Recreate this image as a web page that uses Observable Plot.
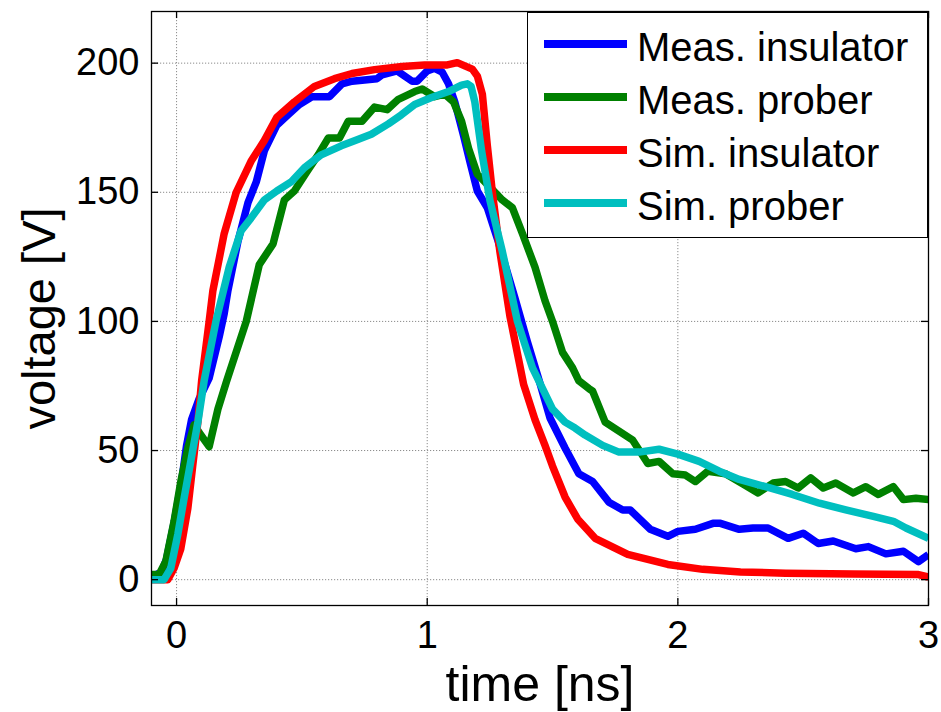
<!DOCTYPE html>
<html><head><meta charset="utf-8">
<script src="https://cdn.jsdelivr.net/npm/d3@7"></script>
<script src="https://cdn.jsdelivr.net/npm/@observablehq/plot@0.6"></script>
<style>
body{margin:0;background:#fff;}
#wrap{position:relative;width:941px;height:712px;font-family:"Liberation Sans",Arial,Helvetica,sans-serif;}
#legend{position:absolute;left:527px;top:12px;width:401px;height:226px;box-sizing:border-box;border:1.3px solid #000;background:#fff;}
</style></head><body><div id="wrap"></div>
<script>
// ---------- data ----------
const xTicks = [0, 1, 2, 3];
const yTicks = [0, 50, 100, 150, 200];
const seriesNames = ["Meas. insulator", "Meas. prober", "Sim. insulator", "Sim. prober"];
const seriesColors = ["#0000ff", "#008000", "#ff0000", "#00bfbf"];

const measInsT = [-0.1,-0.06,-0.04,-0.01,0.02,0.04,0.06,0.09,0.13,0.17,0.19,0.205,0.245,0.285,0.318,0.35,0.40,0.445,0.49,0.54,0.61,0.66,0.70,0.80,0.82,0.88,0.94,0.96,1.0,1.03,1.06,1.085,1.11,1.145,1.17,1.20,1.24,1.28,1.35,1.40,1.45,1.49,1.55,1.605,1.66,1.725,1.78,1.81,1.89,1.96,2.0,2.07,2.14,2.17,2.245,2.30,2.36,2.44,2.50,2.56,2.62,2.71,2.76,2.83,2.90,2.96,3.0];
const measInsV = [1,3,8,22,38,52,62,70,78,94,103,112,131,146,154,166,176,180,184,187,187,192,193,194,195.5,197,193,193,197,198,196.5,192,185,172,162,150.5,144,132,109,92,76,62.6,51,41,38,30,27,27,19.5,16.8,18.7,19.5,21.8,21.8,19.5,20,20,16,18,14,15,12,12.8,10,11,7,9.7];

const measProbT = [-0.1,-0.07,-0.043,-0.01,0.017,0.045,0.07,0.097,0.13,0.165,0.2,0.278,0.33,0.385,0.43,0.47,0.52,0.565,0.605,0.65,0.685,0.74,0.79,0.84,0.885,0.95,0.98,1.03,1.07,1.105,1.137,1.165,1.2,1.26,1.30,1.34,1.38,1.43,1.47,1.50,1.54,1.58,1.605,1.645,1.66,1.71,1.765,1.82,1.88,1.925,1.98,2.03,2.07,2.12,2.19,2.26,2.32,2.38,2.43,2.48,2.53,2.58,2.63,2.70,2.75,2.80,2.86,2.90,2.95,3.0];
const measProbV = [2,2,7,22.6,38,51,60,56,51.5,66,77,100,122,130,147,150.5,158,164.5,171,171,177.5,177.5,183,182,186,189,190,187,188,185,177.5,167,157,151,147,144,134,121,108,100,88,82,77,74,73,61,57.5,54,45,45.8,41,40.5,38,42,41,37,33.6,37.4,38,35.5,39.4,35.5,37.4,33.6,36,33,36,31,31.5,31];

const simInsT = [-0.1,-0.035,-0.01,0.017,0.045,0.065,0.085,0.1,0.13,0.145,0.19,0.238,0.297,0.35,0.40,0.47,0.55,0.63,0.70,0.79,0.90,0.99,1.08,1.12,1.18,1.20,1.22,1.24,1.26,1.29,1.33,1.385,1.43,1.47,1.50,1.55,1.60,1.67,1.80,1.96,2.10,2.25,2.43,2.70,2.96,3.0];
const simInsV = [0,0,4.4,12,27.6,44.6,61,77,100,112,134,150,162,170,179,185,191,194,196,197.5,198.7,199.3,199.3,200.2,197.7,195,188,168,150,127,102,75.5,62,52,44,32,23.5,16,9.8,5.9,4,3,2.5,2.2,2,1];

const simProbT = [-0.1,-0.05,-0.023,0.005,0.03,0.057,0.085,0.11,0.157,0.21,0.257,0.297,0.35,0.40,0.457,0.51,0.577,0.657,0.71,0.777,0.845,0.897,0.95,1.017,1.085,1.137,1.16,1.175,1.19,1.217,1.25,1.30,1.36,1.42,1.50,1.55,1.59,1.63,1.70,1.765,1.845,1.925,2.0,2.085,2.165,2.245,2.35,2.457,2.565,2.67,2.78,2.86,2.91,3.0];
const simProbV = [0,0,4.4,17.5,31.5,46,61,77,100,121,135,140,147,150.5,154,159.5,164.5,168,170,172.5,176.5,180,184,186.7,189,191.5,192,191,185,166,147,127,100,82,66,61,58.7,56,52,49.4,49.4,50.5,48.6,45.8,42,38.8,36,33,29.6,27,24.5,22.6,20,16];

const seriesT = [measInsT, measProbT, simInsT, simProbT];
const seriesV = [measInsV, measProbV, simInsV, simProbV];

// ---------- layout ----------
const W = 941, H = 712, mL = 151, mR = 13, mT = 11, mB = 107;
const plotW = W - mL - mR, plotH = H - mT - mB;
const tickLen = 7;
const font = '"Liberation Sans", Arial, Helvetica, sans-serif';

const rows = seriesT.map((ts, i) => ts.map((t, j) => ({t, v: seriesV[i][j], s: seriesNames[i]})));

const gridStyle = {stroke: "#8c8c8c", strokeOpacity: 1, strokeWidth: 1, strokeDasharray: "1.2,1.8"};

const chart = Plot.plot({
  width: W, height: H,
  marginLeft: mL, marginRight: mR, marginTop: mT, marginBottom: mB,
  style: {fontFamily: font, background: "#fff", color: "#000", overflow: "visible"},
  x: {domain: [-0.1, 3], ticks: xTicks},
  y: {domain: [-10, 220], ticks: yTicks},
  marks: [
    Plot.gridX(xTicks, gridStyle),
    Plot.gridY(yTicks, gridStyle),
    ...rows.map((r, i) => Plot.line(r, {x: "t", y: "v", stroke: seriesColors[i], strokeWidth: 7.5, strokeLinejoin: "round", strokeLinecap: "butt", clip: true})),
    // inward ticks on all four sides
    Plot.tickX(xTicks, {x: d => d, stroke: "#000", strokeWidth: 1.3, insetTop: plotH - tickLen}),
    Plot.tickX(xTicks, {x: d => d, stroke: "#000", strokeWidth: 1.3, insetBottom: plotH - tickLen}),
    Plot.tickY(yTicks, {y: d => d, stroke: "#000", strokeWidth: 1.3, insetRight: plotW - tickLen}),
    Plot.tickY(yTicks, {y: d => d, stroke: "#000", strokeWidth: 1.3, insetLeft: plotW - tickLen}),
    Plot.frame({stroke: "#000", strokeWidth: 1.3}),
    Plot.axisX(xTicks, {tickSize: 0, tickPadding: 16, fontSize: 38, label: null, tickFormat: d => String(d)}),
    Plot.axisY(yTicks, {tickSize: 0, tickPadding: 12, fontSize: 38, label: null, tickFormat: d => String(d)}),
    Plot.text(["time [ns]"], {frameAnchor: "bottom", dy: 95, fontSize: 50, text: d => d, lineAnchor: "bottom", textAnchor: "middle"}),
    Plot.text(["voltage [V]"], {frameAnchor: "left", dx: -112, dy: 10, rotate: -90, fontSize: 47, text: d => d, textAnchor: "middle"})
  ]
});

const wrap = document.getElementById("wrap");
wrap.appendChild(chart);

// ---------- legend ----------
const leg = document.createElement("div");
leg.id = "legend";
wrap.appendChild(leg);
const lsvg = d3.select(leg).append("svg").attr("width", 399).attr("height", 224).style("display", "block");
const rowY = d3.scalePoint().domain(seriesNames).range([31, 190]);
seriesNames.forEach((name, i) => {
  const y = rowY(name);
  lsvg.append("line").attr("x1", 16).attr("x2", 99).attr("y1", y).attr("y2", y)
    .attr("stroke", seriesColors[i]).attr("stroke-width", 8);
  lsvg.append("text").attr("x", 109).attr("y", y + 17).attr("font-size", 40)
    .attr("font-family", font).attr("fill", "#000").text(name);
});
</script>
</body></html>
